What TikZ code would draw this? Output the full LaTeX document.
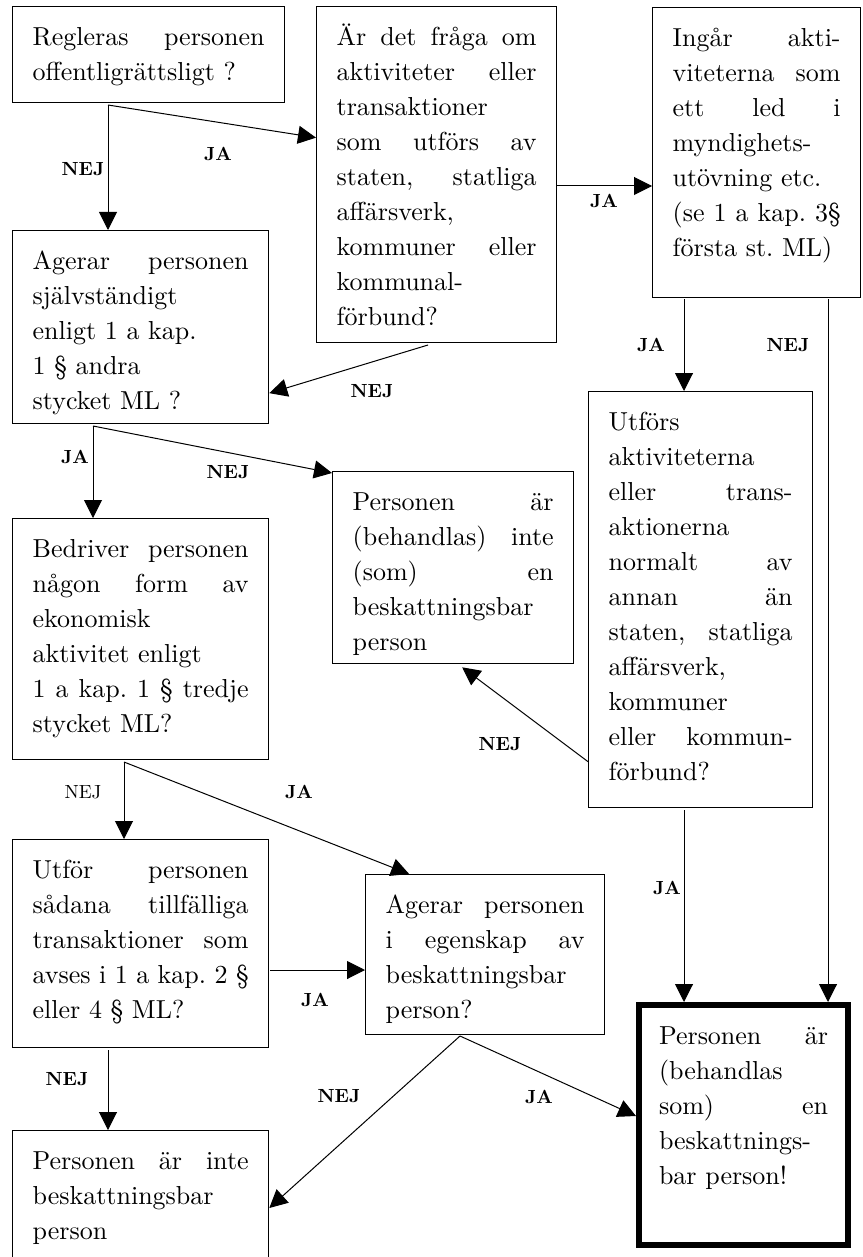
\documentclass[tikz,border=0pt]{standalone}
\usepackage{fontspec}
\setmainfont{lmroman10-regular.otf}[BoldFont=lmroman10-bold.otf]
\usepackage{tikz}
\usetikzlibrary{arrows.meta}
\tolerance=10000 \hbadness=10000 \hfuzz=4pt \hyphenpenalty=10000 \frenchspacing
\tikzstyle{box} = [rectangle, draw, line width=1.3pt, anchor=north west, inner xsep=20pt, inner ysep=21pt, text height=18pt, align=justify, font=\fontsize{26}{35}\selectfont]
\tikzstyle{final} = [box, line width=6pt]
\tikzstyle{lab} = [inner sep=0pt, font=\fontsize{19}{22}\selectfont\bfseries]
\tikzstyle{arrow} = [-{Triangle[length=18pt,width=18pt]}, line width=1pt]

\begin{document}
\begin{tikzpicture}[x=1pt, y=-1pt]
                \useasboundingbox (0,0) rectangle (862,1257);
                % questions
                \node[box, text width=232pt, text depth=36pt] (q1) at (12,6) {Regleras personen\linebreak offentligrättsligt ?};
                \node[box, text width=200pt, text depth=276pt] (q2) at (316,6) {Är det fråga om\linebreak aktiviteter eller\linebreak transaktioner\newline som utförs av\linebreak staten, statliga\linebreak affärsverk,\newline kommuner eller\linebreak kommunal-\newline förbund?};
                \node[box, text width=168pt, text depth=230pt] (q3) at (652,7) {Ingår akti-\linebreak viteterna som\linebreak ett led i\linebreak myndighets-\newline utövning etc.\newline (se 1 a kap. 3§\linebreak första st. ML)};
                \node[box, text width=216pt, text depth=133pt] (q4) at (12,230) {Agerar personen\linebreak självständigt\newline enligt 1 a kap.\newline 1 § andra\newline stycket ML ?};
                \node[box, text width=184pt, text depth=356pt] (q6) at (588,391) {Utförs\newline aktiviteterna\newline eller trans-\linebreak aktionerna\newline normalt av\linebreak annan än\linebreak staten, statliga\linebreak affärsverk,\newline kommuner\newline eller kommun-\linebreak förbund?};
                \node[box, text width=216pt, text depth=181pt] (q5) at (12,518) {Bedriver personen\linebreak någon form av\linebreak ekonomisk\newline aktivitet enligt\newline 1 a kap. 1 § tredje\linebreak stycket ML?};
                \node[box, text width=216pt, text depth=148pt] (q7) at (12,839) {Utför personen\linebreak sådana tillfälliga\linebreak transaktioner som\linebreak avses i 1 a kap. 2 §\linebreak eller 4 § ML?};
                \node[box, text width=199pt, text depth=100pt] (q8) at (365,874) {Agerar personen\linebreak i egenskap av\linebreak beskattningsbar\newline person?};
                % results
                \node[box, text width=201pt, text depth=132pt] (r1) at (332,471) {Personen är\linebreak (behandlas) inte\linebreak (som) en\linebreak beskattningsbar\newline person};
                \node[box, text width=216pt, text depth=85pt] (r2) at (12,1130) {Personen är inte\linebreak beskattningsbar\newline person};
                \node[final, text width=169pt, text depth=180pt] (r3) at (636,1002) {Personen är\linebreak (behandlas\newline som) en\linebreak beskattnings-\newline bar person!};
                % connectors
                \coordinate (s1) at (108,105);
                \coordinate (s2) at (557,186);
                \coordinate (s3) at (428,345);
                \coordinate (s4) at (684,299);
                \coordinate (s5) at (828,299);
                \coordinate (s6) at (93,426);
                \coordinate (s7) at (124,762);
                \coordinate (s8) at (270,970);
                \coordinate (s9) at (108,1050);
                \coordinate (s10) at (460,1036);
                \coordinate (s11) at (684,810);
                \draw[arrow] (s1) -- (s1 |- q4.north);
                \draw[arrow] (s1) -- ([yshift=37pt]q2.west);
                \draw[arrow] (s2) -- (s2 -| q3.west);
                \draw[arrow] (s3) -- ([yshift=-66pt]q4.east);
                \draw[arrow] (s4) -- (s4 |- q6.north);
                \draw[arrow] (s5) -- (s5 |- r3.north);
                \draw[arrow] (s6) -- (s6 |- q5.north);
                \draw[arrow] (s6) -- ([yshift=-2pt]r1.north west);
                \draw[arrow] ([yshift=-162pt]q6.west) -- ([xshift=9pt,yshift=-3pt]r1.south);
                \draw[arrow] (s7) -- (s7 |- q7.north);
                \draw[arrow] (s7) -- ([xshift=-76pt]q8.north);
                \draw[arrow] (s8) -- (s8 -| q8.west);
                \draw[arrow] (s9) -- (s9 |- r2.north);
                \draw[arrow] (s10) -- ([yshift=-78pt]r2.north east);
                \draw[arrow] (s10) -- ([yshift=-114pt]r3.north west);
                \draw[arrow] (s11) -- (s11 |- r3.north);
                % labels
                \node[lab] (l1) at (83,169) {NEJ};
                \node[lab] (l2) at (218,154) {JA};
                \node[lab] (l3) at (604,201) {JA};
                \node[lab] (l4) at (372,391) {NEJ};
                \node[lab] (l5) at (651,345) {JA};
                \node[lab] (l6) at (788,345) {NEJ};
                \node[lab] (l7) at (75,457) {JA};
                \node[lab] (l8) at (228,472) {NEJ};
                \node[lab] (l9) at (500,744) {NEJ};
                \node[lab, font=\fontsize{19}{22}\selectfont] (l10) at (83,792) {NEJ};
                \node[lab] (l11) at (299,792) {JA};
                \node[lab] (l12) at (315,1000) {JA};
                \node[lab] (l13) at (67,1079) {NEJ};
                \node[lab] (l14) at (339,1096) {NEJ};
                \node[lab] (l15) at (539,1097) {JA};
                \node[lab] (l16) at (667,888) {JA};
            \end{tikzpicture}
\end{document}
